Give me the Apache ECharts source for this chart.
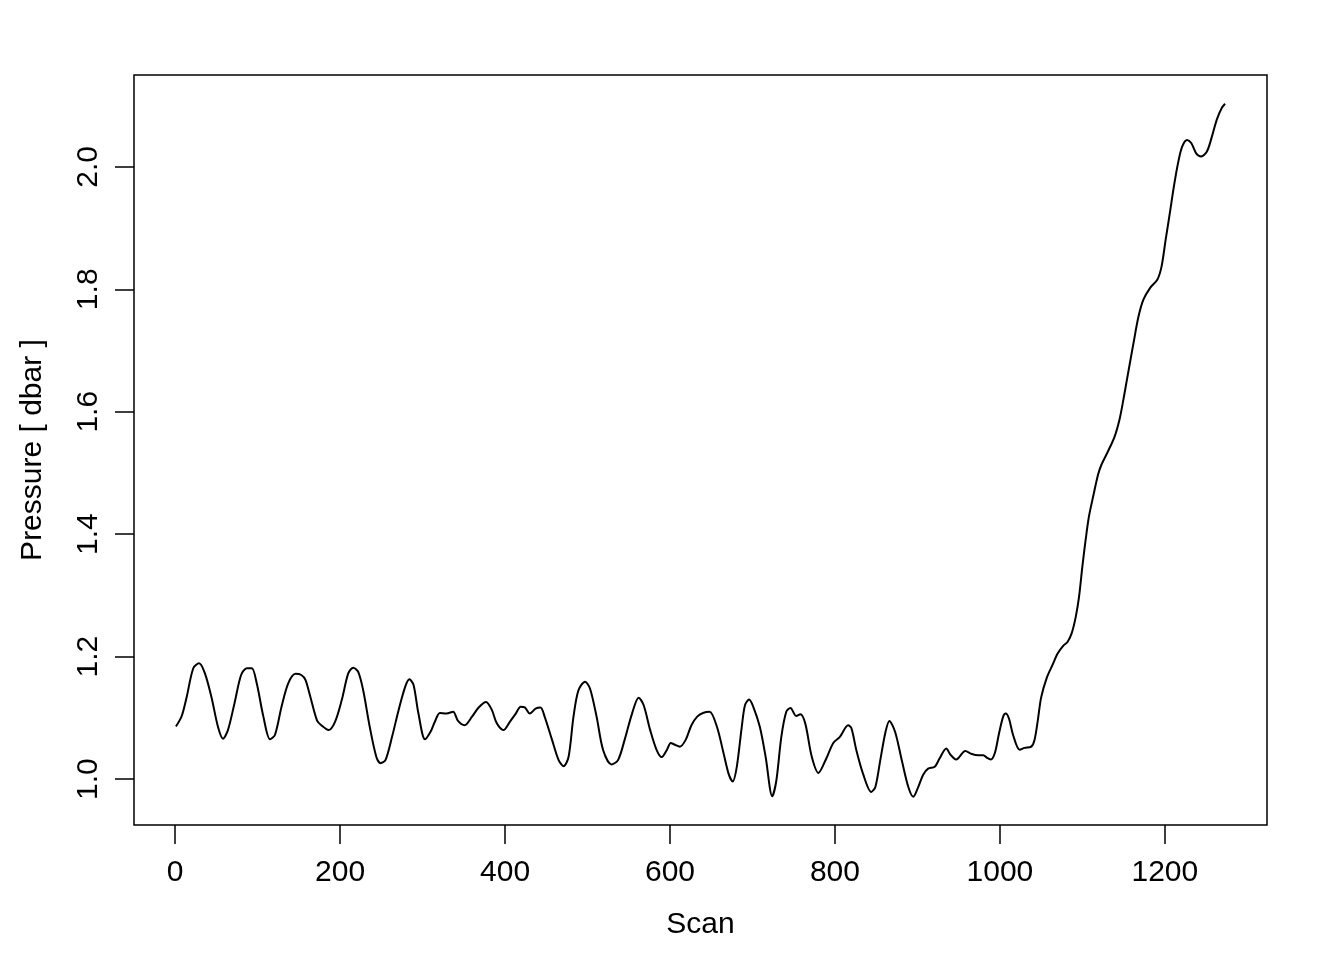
<!DOCTYPE html>
<html>
<head>
<meta charset="utf-8">
<title>Pressure vs Scan</title>
<script src="https://cdn.jsdelivr.net/npm/echarts@6/dist/echarts.min.js"></script>
<style>
  html, body { margin: 0; padding: 0; background: #fff; }
  #chart { width: 1344px; height: 960px; }
</style>
</head>
<body>
<div id="chart"></div>
<script>
// scan index and pressure
const scans = [
  1, 8, 14, 22, 29, 36, 44, 52, 58, 64, 72, 80, 87, 93, 99, 107, 115, 121, 129, 137,
  146, 153, 158, 164, 172, 178, 186, 194, 202, 210, 216, 222, 228, 236, 244, 249, 255, 263, 271, 279,
  284, 289, 295, 303, 310, 315, 321, 329, 337, 343, 351, 360, 368, 377, 384, 390, 398, 406, 413, 419,
  424, 430, 437, 443, 448, 457, 465, 471, 477, 483, 489, 497, 503, 511, 519, 529, 537, 545, 554, 562,
  568, 576, 584, 590, 596, 601, 606, 612, 619, 626, 633, 640, 648, 657, 665, 671, 676, 681, 687, 691,
  696, 701, 709, 716, 724, 729, 735, 741, 746, 753, 758, 764, 772, 780, 789, 798, 806, 816, 820, 826,
  834, 844, 849, 855, 861, 866, 873, 881, 889, 895, 901, 907, 913, 921, 927, 935, 940, 947, 958, 966,
  974, 980, 984, 989, 994, 999, 1004, 1007, 1011, 1016, 1024, 1030, 1038, 1042, 1046, 1050, 1057, 1064, 1070, 1077,
  1082, 1087, 1092, 1096, 1100, 1104, 1108, 1113, 1119, 1123, 1131, 1139, 1145, 1149, 1154, 1162, 1168, 1174, 1182, 1191,
  1196, 1201, 1206, 1211, 1216, 1221, 1227, 1232, 1238, 1244, 1251, 1257, 1263, 1269, 1273
]
const pressure = [
  1.086, 1.103, 1.134, 1.181, 1.189, 1.173, 1.134, 1.085, 1.066, 1.080, 1.124, 1.170, 1.181, 1.181, 1.156, 1.102, 1.065, 1.072, 1.118, 1.156,
  1.172, 1.170, 1.162, 1.134, 1.096, 1.087, 1.080, 1.094, 1.129, 1.173, 1.182, 1.175, 1.145, 1.085, 1.036, 1.026, 1.031, 1.069, 1.113, 1.151,
  1.163, 1.154, 1.107, 1.065, 1.078, 1.094, 1.108, 1.107, 1.110, 1.095, 1.088, 1.102, 1.117, 1.126, 1.113, 1.091, 1.080, 1.094, 1.107, 1.118,
  1.117, 1.107, 1.115, 1.117, 1.102, 1.064, 1.031, 1.021, 1.036, 1.102, 1.145, 1.159, 1.148, 1.102, 1.047, 1.024, 1.031, 1.064, 1.107, 1.133,
  1.121, 1.080, 1.047, 1.036, 1.047, 1.059, 1.056, 1.053, 1.064, 1.088, 1.102, 1.108, 1.110, 1.085, 1.042, 1.009, 0.996, 1.020, 1.085, 1.121,
  1.130, 1.118, 1.085, 1.036, 0.972, 0.998, 1.069, 1.110, 1.116, 1.103, 1.106, 1.091, 1.036, 1.010, 1.032, 1.059, 1.069, 1.088, 1.083, 1.047,
  1.009, 0.979, 0.987, 1.031, 1.075, 1.095, 1.077, 1.031, 0.987, 0.971, 0.987, 1.007, 1.017, 1.020, 1.034, 1.050, 1.040, 1.032, 1.046, 1.041,
  1.039, 1.039, 1.035, 1.032, 1.043, 1.075, 1.102, 1.107, 1.099, 1.072, 1.048, 1.051, 1.053, 1.064, 1.096, 1.133, 1.166, 1.187, 1.205, 1.218,
  1.224, 1.238, 1.265, 1.298, 1.347, 1.391, 1.429, 1.461, 1.497, 1.513, 1.535, 1.559, 1.587, 1.614, 1.652, 1.712, 1.755, 1.783, 1.802, 1.816,
  1.837, 1.881, 1.924, 1.968, 2.006, 2.033, 2.044, 2.039, 2.022, 2.017, 2.025, 2.049, 2.077, 2.096, 2.103
]

// axis ticks
const xTicks = [0, 200, 400, 600, 800, 1000, 1200]
const yTicks = [1.0, 1.2, 1.4, 1.6, 1.8, 2.0]

const chart = echarts.init(document.getElementById('chart'))

const font = 'Liberation Sans, Arial, Helvetica, sans-serif'

const option = {
  animation: false,
  backgroundColor: '#fff',
  grid: {
    left: 134,
    right: 77,
    top: 75,
    bottom: 135,
    show: true,
    borderColor: '#000',
    borderWidth: 1.5,
    backgroundColor: 'transparent'
  },
  xAxis: {
    type: 'value',
    min: -49.88,
    max: 1323.88,
    name: 'Scan',
    nameLocation: 'middle',
    nameGap: 85,
    nameTextStyle: { color: '#000', fontSize: 30, fontFamily: font },
    axisLine: { show: false, onZero: false },
    axisTick: {
      show: true,
      length: 19,
      customValues: xTicks,
      lineStyle: { color: '#000', width: 1.5 }
    },
    axisLabel: {
      customValues: xTicks,
      margin: 33,
      color: '#000',
      fontSize: 30,
      fontFamily: font,
      formatter: v => String(v)
    },
    splitLine: { show: false }
  },
  yAxis: {
    type: 'value',
    min: 0.925,
    max: 2.15,
    name: 'Pressure [ dbar ]',
    nameLocation: 'middle',
    nameGap: 86,
    nameRotate: 90,
    nameTextStyle: { color: '#000', fontSize: 30, fontFamily: font },
    axisLine: { show: false, onZero: false },
    axisTick: {
      show: true,
      length: 19,
      customValues: yTicks,
      lineStyle: { color: '#000', width: 1.5 }
    },
    axisLabel: {
      customValues: yTicks,
      rotate: 90,
      margin: 30,
      color: '#000',
      fontSize: 30,
      fontFamily: font,
      formatter: v => v.toFixed(1)
    },
    splitLine: { show: false }
  },
  series: [
    {
      type: 'line',
      data: scans.map((s, i) => [s, pressure[i]]),
      showSymbol: false,
      smooth: 0.3,
      lineStyle: { color: '#000', width: 2 }
    }
  ]
}

chart.setOption(option)
</script>
</body>
</html>
